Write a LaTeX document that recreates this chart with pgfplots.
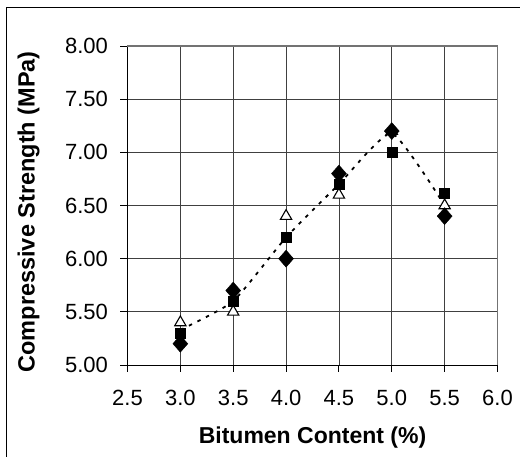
\documentclass[border=0pt]{standalone}
\usepackage{pgfplots}
\pgfplotsset{compat=1.18}
\usepackage{fontspec}
\setmainfont{Liberation Sans}

\begin{document}
\fontsize{22}{26}\selectfont
\begin{tikzpicture}[x=1pt,y=1pt]
\begin{axis}[
    at={(127.5pt,92pt)}, anchor=south west,
    scale only axis, width=370pt, height=319pt,
    xmin=2.5, xmax=6.0, ymin=5, ymax=8,
    xtick={2.5,3.0,3.5,4.0,4.5,5.0,5.5,6.0},
    ytick={5.0,5.5,6.0,6.5,7.0,7.5,8.0},
    axis x line*=bottom, axis y line*=left,
    axis line style={black, line width=0.9pt, -},
    tick align=outside, major tick length=7pt,
    tick style={black, line width=0.9pt},
    grid=major, grid style={black!75, line width=0.8pt},
    /pgf/number format/assume math mode=true,
    tick label style={font=\fontsize{22}{26}\selectfont},
    x tick label style={yshift=-11pt, /pgf/number format/.cd, fixed, fixed zerofill, precision=1},
    y tick label style={xshift=-5pt, /pgf/number format/.cd, fixed, fixed zerofill, precision=2},
    xlabel={\bfseries Bitumen Content (\%)},
    ylabel={\bfseries Compressive Strength (MPa)},
    xlabel style={at={(axis description cs:0.5,-0.228)}, anchor=center, font=\fontsize{23}{27}\selectfont},
    ylabel style={at={(axis description cs:-0.267,0.48)}, anchor=center, font=\fontsize{23.5}{27}\selectfont},
    clip=false,
]
% trend (mean of the three series)
\addplot[black, line width=1.8pt, dash pattern=on 3.5pt off 6pt, smooth, tension=0.3] coordinates {
    (3.0,5.33)(3.5,5.60)(4.0,6.20)(4.5,6.70)(5.0,7.18)(5.5,6.50)};
% series 3 - open triangles
\addplot[only marks, mark=triangle*, mark size=6.5pt, black, mark options={fill=white, line width=1.1pt}] coordinates {
    (3.0,5.40)(3.5,5.50)(4.0,6.40)(4.5,6.60)(5.0,7.20)(5.5,6.50)};
% series 2 - squares
\addplot[only marks, mark=square*, mark size=5pt, black, mark options={fill=black}] coordinates {
    (3.0,5.30)(3.5,5.60)(4.0,6.20)(4.5,6.70)(5.0,7.00)(5.5,6.62)};
% series 1 - diamonds
\addplot[only marks, mark=diamond*, mark size=8.5pt, black, mark options={fill=black, xscale=1.17}] coordinates {
    (3.0,5.20)(3.5,5.70)(4.0,6.00)(4.5,6.80)(5.0,7.20)(5.5,6.40)};
\draw[black!55, line width=1.6pt] (rel axis cs:0,1) -- (rel axis cs:1,1) -- (rel axis cs:1,0);
\end{axis}
\draw[black, line width=1pt] (6,-20) rectangle (560,449);
\pgfresetboundingbox
\useasboundingbox (0,0) rectangle (520,457);
\end{tikzpicture}
\end{document}
